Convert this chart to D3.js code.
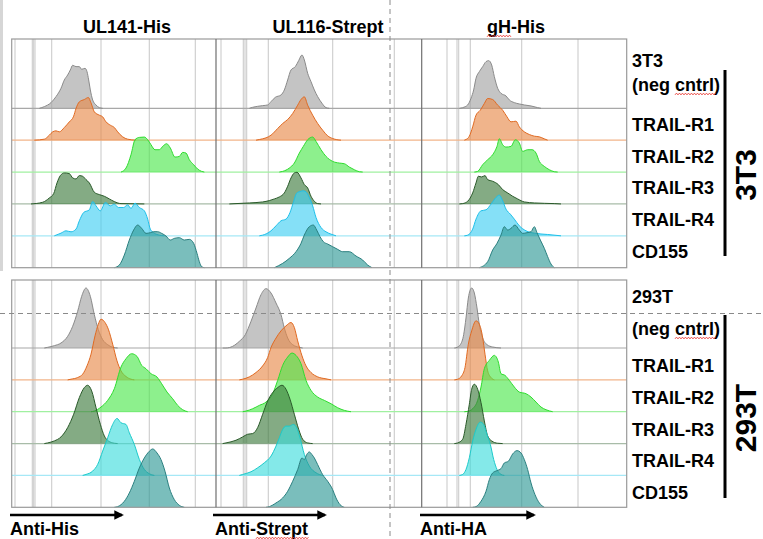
<!DOCTYPE html>
<html>
<head>
<meta charset="utf-8">
<script src="https://cdn.jsdelivr.net/npm/d3@7.9.0/dist/d3.min.js"></script>
<style>
  body { margin: 0; background: #fff; }
  text { font-family: "Liberation Sans", Arial, sans-serif; font-weight: bold; fill: #000; }
</style>
</head>
<body>
<svg id="chart" width="763" height="539"></svg>
<script>
// column titles, axis labels, row labels
const columns = ['UL141-His', 'UL116-Strept', 'gH-His'];
const axisLabels = ['Anti-His', 'Anti-Strept', 'Anti-HA'];
const rowLabels = ['(neg cntrl)', 'TRAIL-R1', 'TRAIL-R2', 'TRAIL-R3', 'TRAIL-R4', 'CD155'];
const cellLines = ['3T3', '293T'];

// decade gridlines per column (channel units 0..618)
const gridCh = [
  [12, 64, 68, 72, 122, 270, 415, 553],
  [15, 82, 87, 92, 157, 350, 535],
  [78, 108, 113, 148, 302, 471],
];

// histograms: [channel, count] ; rows = neg, R1, R2, R3, R4, CD155
const hist3T3_UL141 = [
  [[85,0],[100,5],[120,17],[135,35],[150,60],[160,85],[170,100],[178,115],[185,129],[195,125],[205,125],[212,117],[222,120],[228,110],[233,85],[238,55],[245,25],[255,10],[265,2],[275,0]],
  [[70,0],[100,3],[115,15],[125,25],[135,28],[145,25],[160,38],[175,55],[188,72],[195,95],[205,115],[220,122],[232,128],[240,112],[250,85],[265,75],[275,70],[285,55],[298,45],[310,38],[320,25],[335,10],[350,3],[375,0]],
  [[330,0],[345,12],[360,52],[372,97],[385,104],[400,105],[410,97],[420,82],[432,67],[445,67],[457,79],[467,85],[478,72],[492,45],[505,47],[515,59],[525,57],[535,37],[548,22],[560,9],[572,2],[580,0]],
  [[60,0],[95,5],[115,18],[128,31],[138,63],[148,85],[160,93],[175,91],[185,78],[195,75],[205,85],[215,83],[225,73],[235,63],[250,35],[265,28],[280,23],[295,15],[310,7],[330,1],[400,0]],
  [[130,0],[150,8],[165,15],[180,12],[195,20],[205,45],[218,70],[235,78],[245,103],[255,90],[268,75],[283,100],[298,90],[310,95],[322,85],[338,85],[350,93],[360,82],[372,98],[385,85],[400,75],[410,50],[418,20],[430,8],[445,2],[460,0]],
  [[310,0],[325,8],[340,38],[355,83],[368,113],[380,128],[392,118],[405,103],[418,105],[428,108],[440,108],[452,103],[465,95],[478,83],[490,88],[505,90],[520,83],[535,85],[548,73],[558,43],[565,18],[572,3],[580,0]],
];
const hist3T3_UL116 = [
  [[100,0],[110,3],[140,8],[155,10],[165,20],[178,33],[195,40],[205,55],[215,85],[225,115],[238,125],[248,143],[258,160],[265,145],[275,105],[285,80],[295,55],[305,35],[318,15],[330,2],[340,0]],
  [[120,0],[130,2],[150,7],[165,15],[185,35],[200,50],[215,62],[230,80],[245,105],[255,122],[265,130],[275,105],[290,75],[305,50],[320,30],[335,13],[350,5],[375,0]],
  [[190,0],[200,2],[220,12],[235,27],[250,57],[262,77],[275,97],[290,105],[300,92],[315,67],[330,47],[350,32],[370,27],[385,25],[400,15],[415,7],[430,1],[440,0]],
  [[40,0],[60,1],[100,3],[140,6],[160,10],[175,15],[190,21],[205,33],[215,53],[225,78],[235,93],[243,95],[255,78],[265,58],[275,48],[285,23],[295,8],[305,1],[315,0]],
  [[130,0],[140,2],[165,15],[180,30],[195,45],[210,50],[222,70],[232,100],[242,128],[252,133],[262,135],[270,132],[280,115],[290,90],[300,55],[315,25],[330,12],[345,5],[360,0]],
  [[175,0],[200,13],[220,28],[240,48],[255,73],[265,98],[280,123],[292,128],[302,113],[312,93],[322,78],[335,71],[350,63],[365,55],[380,48],[400,48],[420,35],[440,23],[455,8],[468,0]],
];
const hist3T3_gH = [
  [[115,0],[125,2],[140,10],[150,30],[158,55],[165,90],[175,110],[185,125],[195,140],[203,143],[212,130],[220,95],[230,60],[240,45],[255,37],[265,25],[280,17],[295,13],[310,10],[330,7],[350,2],[360,0]],
  [[130,0],[135,2],[145,12],[155,40],[165,75],[178,90],[190,110],[200,125],[215,122],[230,105],[245,90],[258,70],[270,55],[285,57],[295,40],[310,25],[325,17],[340,12],[355,10],[370,4],[380,0]],
  [[160,0],[170,2],[185,22],[200,37],[215,52],[228,77],[235,100],[245,82],[255,75],[270,77],[283,97],[295,87],[305,62],[320,67],[333,67],[345,57],[355,32],[370,17],[385,7],[400,1],[410,0]],
  [[115,0],[125,1],[140,8],[155,33],[165,63],[172,83],[182,81],[192,85],[200,73],[215,68],[232,58],[245,43],[260,33],[275,23],[290,15],[310,6],[340,3],[400,1],[420,0]],
  [[130,0],[140,2],[155,20],[165,50],[180,75],[195,78],[210,95],[225,115],[235,122],[245,105],[255,80],[268,65],[280,50],[295,30],[315,15],[340,8],[380,4],[420,0]],
  [[175,0],[200,18],[215,53],[228,73],[240,98],[250,123],[260,113],[270,118],[282,128],[295,113],[305,103],[318,105],[330,108],[340,123],[348,105],[358,83],[370,58],[380,33],[390,11],[400,0]],
];
const hist293T_UL141 = [
  [[100,0],[110,2],[130,7],[150,15],[170,35],[185,65],[200,110],[212,155],[225,180],[238,155],[250,100],[262,55],[275,25],[290,10],[305,2],[320,0]],
  [[170,0],[180,2],[200,7],[215,17],[228,42],[240,77],[252,132],[262,167],[270,182],[282,172],[292,152],[305,107],[318,57],[330,27],[345,10],[360,2],[370,0]],
  [[240,0],[250,2],[270,14],[290,34],[310,69],[330,134],[345,159],[362,174],[378,166],[392,139],[405,129],[420,114],[438,104],[452,84],[468,59],[485,39],[500,19],[515,6],[530,0]],
  [[100,0],[110,2],[130,8],[150,20],[170,48],[188,88],[205,138],[220,168],[230,175],[242,158],[255,108],[268,58],[280,23],[292,8],[310,1],[320,0]],
  [[215,0],[225,3],[245,13],[260,33],[275,73],[290,113],[305,153],[318,171],[330,158],[345,153],[355,128],[370,93],[385,48],[400,18],[415,5],[430,0]],
  [[310,0],[320,2],[340,18],[355,43],[370,78],[385,118],[400,148],[415,168],[425,175],[438,163],[450,143],[462,108],[475,58],[490,23],[505,6],[520,0]],
];
const hist293T_UL116 = [
  [[20,0],[30,0],[50,5],[70,20],[88,40],[105,80],[120,120],[135,160],[150,178],[165,165],[180,135],[195,100],[205,60],[215,30],[230,10],[250,2],[260,0]],
  [[70,0],[80,2],[100,9],[120,22],[140,42],[155,67],[165,97],[178,122],[195,147],[210,162],[225,172],[235,157],[245,117],[258,72],[270,42],[285,22],[305,9],[330,3],[345,0]],
  [[80,0],[90,2],[110,9],[130,19],[150,29],[170,54],[185,94],[200,139],[215,164],[228,176],[240,169],[255,144],[270,94],[285,64],[305,44],[325,34],[345,24],[365,12],[385,4],[405,0]],
  [[20,0],[30,2],[60,10],[80,20],[95,28],[110,30],[125,48],[140,88],[155,128],[170,153],[185,168],[198,175],[210,163],[222,133],[235,88],[248,43],[260,13],[275,2],[290,0]],
  [[70,0],[80,3],[105,11],[125,23],[145,38],[165,58],[180,88],[190,113],[200,138],[210,148],[220,148],[232,153],[242,143],[252,113],[265,63],[280,28],[300,8],[320,0]],
  [[150,0],[160,2],[180,13],[200,28],[215,48],[230,78],[245,113],[258,148],[265,143],[272,158],[280,166],[288,158],[295,148],[305,128],[320,98],[335,78],[350,53],[360,28],[372,8],[385,0]],
];
const hist293T_gH = [
  [[100,0],[108,2],[118,10],[128,40],[135,90],[142,150],[152,180],[160,165],[168,120],[175,70],[185,30],[198,10],[215,3],[240,0]],
  [[100,0],[110,2],[122,12],[132,37],[142,107],[152,147],[165,177],[175,167],[185,127],[192,77],[200,27],[210,7],[220,0]],
  [[130,0],[140,1],[155,9],[170,34],[180,74],[190,129],[205,154],[220,169],[232,149],[240,114],[252,109],[265,94],[280,74],[295,59],[315,54],[330,44],[345,29],[360,14],[375,6],[395,0]],
  [[100,0],[110,2],[125,13],[135,58],[145,118],[152,163],[160,178],[170,163],[180,123],[190,68],[200,23],[212,8],[230,1],[245,0]],
  [[115,0],[125,3],[135,18],[145,53],[155,103],[165,138],[178,160],[188,153],[198,123],[208,93],[218,48],[228,18],[240,3],[250,0]],
  [[155,0],[165,2],[180,18],[195,48],[205,83],[215,103],[228,110],[240,116],[250,133],[262,138],[275,160],[288,170],[300,163],[310,143],[320,113],[330,73],[342,38],[355,13],[370,0]],
];

const histograms = [
  [hist3T3_UL141, hist3T3_UL116, hist3T3_gH],
  [hist293T_UL141, hist293T_UL116, hist293T_gH],
];

// row colours
const fills = ['#a3a3a3', '#e8894a', '#4ce84c', '#3e7b3e', '#40cff2', '#2f9a96'];
const strokes = ['#8a8a8a', '#e06a22', '#2edc2e', '#2a5a2a', '#1ec0ea', '#2a7f7f'];
const baseColors = ['#a8a8a8', '#f2b48a', '#a0f0a0', '#a8bca8', '#a6e8f6', '#a0a0a0'];

// layout
const colX = [[11, 217], [216, 422], [421, 627]];
const blocks = [
  { top: 39, rows: [108.3, 267.7], nameY: 67, negY: 91, off: -9.5, barY: [70, 256], bigY: 175 },
  { top: 280, rows: [348, 507.3], nameY: 303, negY: 335, off: -8, barY: [315, 498], bigY: 418 },
];
const fs = 18;

const svg = d3.select('#chart');

const countScale = d3.scaleLinear().domain([0, 150]).range([0, 50]);

// light strip at far left
svg.append('line')
  .attr('x1', 1.5).attr('x2', 1.5).attr('y1', 0).attr('y2', 271)
  .attr('stroke', '#d6d6d6').attr('stroke-width', 3);

blocks.forEach((b, bi) => {
  const rowScale = d3.scaleLinear().domain([0, 5]).range(b.rows);
  const g = svg.append('g').attr('class', 'block');
  const bottom = b.rows[1];

  // vertical decade gridlines
  colX.forEach((range, ci) => {
    const x = d3.scaleLinear().domain([0, 618]).range(range);
    g.append('g')
      .selectAll('line')
      .data(gridCh[ci])
      .join('line')
      .attr('x1', (d) => x(d)).attr('x2', (d) => x(d))
      .attr('y1', b.top).attr('y2', bottom)
      .attr('stroke', '#d0d0d0').attr('stroke-width', 1.2);
  });

  // row baselines across all three panels
  g.append('g')
    .selectAll('line')
    .data(d3.range(5))
    .join('line')
    .attr('x1', colX[0][0] + 0.7).attr('x2', colX[2][1] - 0.3)
    .attr('y1', (d) => rowScale(d)).attr('y2', (d) => rowScale(d))
    .attr('stroke', (d) => baseColors[d]).attr('stroke-width', 1.2);

  // histograms
  colX.forEach((range, ci) => {
    const x = d3.scaleLinear().domain([0, 618]).range(range);
    const panel = g.append('g');
    histograms[bi][ci].forEach((series, ri) => {
      const base = rowScale(ri);
      let fill = fills[ri], stroke = strokes[ri];
      if (bi === 1 && ri === 4) { fill = '#3fdcdc'; stroke = '#1ccaca'; }
      const area = d3.area()
        .curve(d3.curveMonotoneX)
        .x((d) => x(d[0]))
        .y0(base)
        .y1((d) => base - countScale(d[1]));
      const line = d3.line()
        .curve(d3.curveMonotoneX)
        .x((d) => x(d[0]))
        .y((d) => base - countScale(d[1]));
      panel.append('path').datum(series)
        .attr('d', area).attr('fill', fill).attr('fill-opacity', 0.64);
      panel.append('path').datum(series)
        .attr('d', line).attr('fill', 'none').attr('stroke', stroke).attr('stroke-width', 1);
    });
  });

  // frames
  g.append('rect')
    .attr('x', colX[0][0] + 0.7).attr('y', b.top)
    .attr('width', colX[2][1] - colX[0][0] - 1).attr('height', bottom - b.top)
    .attr('fill', 'none').attr('stroke', '#9a9a9a').attr('stroke-width', 1.2);
  [colX[1][0], colX[2][0] + 0.7].forEach((sx) => {
    g.append('line')
      .attr('x1', sx).attr('x2', sx).attr('y1', b.top).attr('y2', bottom)
      .attr('stroke', '#6f6f6f').attr('stroke-width', 1.2);
  });

  // right labels
  const lx = 632;
  g.append('text').attr('x', lx).attr('y', b.nameY).attr('font-size', fs).text(cellLines[bi]);
  const neg = g.append('text').attr('x', lx).attr('y', b.negY).attr('font-size', fs).text(rowLabels[0]);
  squiggle(neg.node(), 5, 5);
  rowLabels.slice(1).forEach((lab, i) => {
    g.append('text')
      .attr('x', lx).attr('y', rowScale(i + 1) + b.off)
      .attr('font-size', fs).text(lab);
  });

  // black bar + big rotated label
  g.append('line')
    .attr('x1', 725).attr('x2', 725).attr('y1', b.barY[0]).attr('y2', b.barY[1])
    .attr('stroke', '#000').attr('stroke-width', 3);
  g.append('text')
    .attr('transform', `translate(756,${b.bigY}) rotate(-90)`)
    .attr('text-anchor', 'middle')
    .attr('font-size', 30)
    .text(cellLines[bi]);
});

// column titles
const titleX = [127, 328, 516];
columns.forEach((t, i) => {
  const el = svg.append('text')
    .attr('x', titleX[i]).attr('y', 33)
    .attr('text-anchor', 'middle').attr('font-size', fs).text(t);
  if (i === 2) squiggle(el.node(), 0, 2);
});

// axis arrows + labels
const arrowX = [[10, 122], [213, 325], [420, 534]];
svg.append('defs').append('marker')
  .attr('id', 'arrow').attr('viewBox', '0 0 10 10')
  .attr('refX', 8).attr('refY', 5)
  .attr('markerWidth', 4).attr('markerHeight', 4)
  .attr('orient', 'auto')
  .append('path').attr('d', 'M0,0L10,5L0,10Z').attr('fill', '#000');
arrowX.forEach((a, i) => {
  svg.append('line')
    .attr('x1', a[0]).attr('x2', a[1]).attr('y1', 515).attr('y2', 515)
    .attr('stroke', '#000').attr('stroke-width', 2.4)
    .attr('marker-end', 'url(#arrow)');
  const el = svg.append('text')
    .attr('x', a[0] + (i === 1 ? 2 : 0)).attr('y', 535)
    .attr('font-size', fs).text(axisLabels[i]);
  if (i === 1) squiggle(el.node(), 5, 6);
});

// dashed guide lines
svg.append('line')
  .attr('x1', 390).attr('x2', 390).attr('y1', 0).attr('y2', 539)
  .attr('stroke', '#8a8a8a').attr('stroke-width', 1).attr('stroke-dasharray', '5,4');
svg.append('line')
  .attr('x1', 0).attr('x2', 763).attr('y1', 313.5).attr('y2', 313.5)
  .attr('stroke', '#8a8a8a').attr('stroke-width', 1).attr('stroke-dasharray', '5,4');

// red spell-check wave under part of a text element
function squiggle(node, start, len) {
  const p = node.getStartPositionOfChar(start);
  const w = node.getSubStringLength(start, len);
  const y = p.y + 3;
  const pts = d3.range(0, Math.ceil(w / 1.5) + 1).map((i) => [p.x + i * 1.5, y + (i % 2 ? -0.9 : 0.9)]);
  d3.select(node.parentNode).append('path')
    .attr('d', d3.line()(pts))
    .attr('fill', 'none').attr('stroke', '#e8302a').attr('stroke-width', 0.8);
}
</script>
</body>
</html>
